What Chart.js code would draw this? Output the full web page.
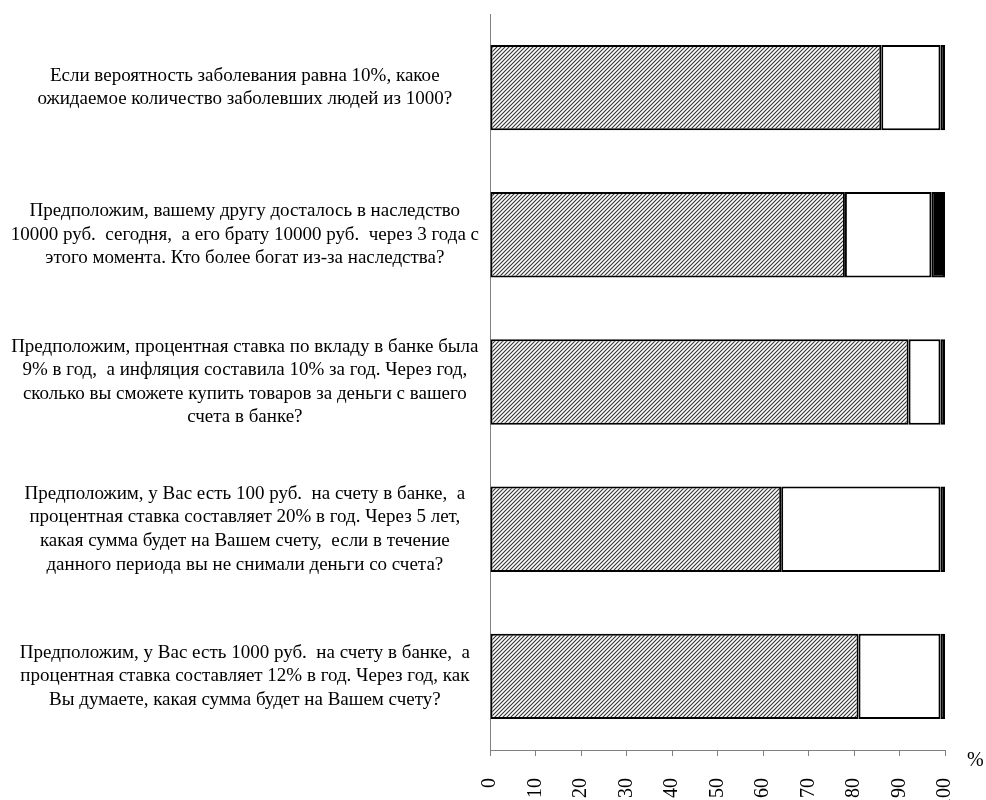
<!DOCTYPE html>
<html>
<head>
<meta charset="utf-8">
<script src="https://cdn.jsdelivr.net/npm/chart.js@4"></script>
<style>
  html, body { margin: 0; padding: 0; background: #fff; overflow: hidden; }
  #wrap { width: 986px; height: 800px; }
</style>
</head>
<body>
<div id="wrap"><canvas id="bar-chart"></canvas></div>
<script>
const questions = [
  ['Если вероятность заболевания равна 10%, какое', 'ожидаемое количество заболевших людей из 1000?'],
  ['Предположим, вашему другу досталось в наследство', '10000 руб.  сегодня,  а его брату 10000 руб.  через 3 года с', 'этого момента. Кто более богат из-за наследства?'],
  ['Предположим, процентная ставка по вкладу в банке была', '9% в год,  а инфляция составила 10% за год. Через год,', 'сколько вы сможете купить товаров за деньги с вашего', 'счета в банке?'],
  ['Предположим, у Вас есть 100 руб.  на счету в банке,  а', 'процентная ставка составляет 20% в год. Через 5 лет,', 'какая сумма будет на Вашем счету,  если в течение', 'данного периода вы не снимали деньги со счета?'],
  ['Предположим, у Вас есть 1000 руб.  на счету в банке,  а', 'процентная ставка составляет 12% в год. Через год, как', 'Вы думаете, какая сумма будет на Вашем счету?'],
]
const correctValues = [86, 78, 92, 64, 81]
const wrongValues = [13, 19, 7, 35, 18]
const unknownValues = [1, 3, 1, 1, 1]
const seriesNames = ['Верно', 'Неверно', 'Затрудняюсь ответить']

// hatch pattern for the first series
function makeHatch () {
  const c = document.createElement('canvas')
  c.width = 4
  c.height = 4
  const g = c.getContext('2d')
  g.fillStyle = '#fff'
  g.fillRect(0, 0, 4, 4)
  g.strokeStyle = '#333'
  g.lineWidth = 1.1
  g.beginPath()
  g.moveTo(0, 4); g.lineTo(4, 0)
  g.moveTo(-1, 1); g.lineTo(1, -1)
  g.moveTo(3, 5); g.lineTo(5, 3)
  g.stroke()
  return g.createPattern(c, 'repeat')
}

const percentSign = {
  id: 'percentSign',
  afterDraw (chart) {
    const ctx = chart.ctx
    const area = chart.chartArea
    ctx.save()
    ctx.font = '20px "Liberation Serif"'
    ctx.fillStyle = '#000'
    ctx.textAlign = 'left'
    ctx.textBaseline = 'middle'
    ctx.fillText('%', area.right + 22, area.bottom + 11)
    ctx.restore()
  },
}

const barCanvas = document.getElementById('bar-chart')
const hatch = makeHatch()

const barChart = new Chart(barCanvas.getContext('2d'), {
  type: 'bar',
  data: {
    labels: questions,
    datasets: [
      { label: seriesNames[0], data: correctValues, backgroundColor: hatch },
      { label: seriesNames[1], data: wrongValues, backgroundColor: '#fff' },
      { label: seriesNames[2], data: unknownValues, backgroundColor: '#000' },
    ],
  },
  options: {
    indexAxis: 'y',
    responsive: true,
    maintainAspectRatio: false,
    animation: false,
    layout: { padding: { top: 14, right: 41, left: 0, bottom: 0 } },
    datasets: {
      bar: {
        borderColor: '#000',
        borderWidth: 2,
        borderSkipped: false,
        categoryPercentage: 1,
        barPercentage: 0.58,
      },
    },
    plugins: {
      legend: { display: false },
      tooltip: { enabled: false },
    },
    scales: {
      x: {
        stacked: true,
        min: 0,
        max: 100,
        afterFit (scale) {
          scale.height = 50
          scale.paddingLeft = 0
          scale.paddingRight = 0
        },
        border: { display: true, color: '#808080', width: 1 },
        grid: { display: true, drawOnChartArea: false, color: '#808080', tickLength: 6 },
        ticks: {
          stepSize: 10,
          minRotation: 90,
          maxRotation: 90,
          padding: 22,
          color: '#000',
          font: { family: 'Liberation Serif', size: 20 },
        },
      },
      y: {
        stacked: true,
        afterFit (scale) {
          scale.width = 490
          scale.paddingTop = 0
          scale.paddingBottom = 0
        },
        border: { display: true, color: '#808080', width: 1 },
        grid: { display: false },
        ticks: {
          crossAlign: 'center',
          color: '#000',
          font: { family: 'Liberation Serif', size: 19, lineHeight: 1.24 },
        },
      },
    },
  },
  plugins: [percentSign],
})
</script>
</body>
</html>
